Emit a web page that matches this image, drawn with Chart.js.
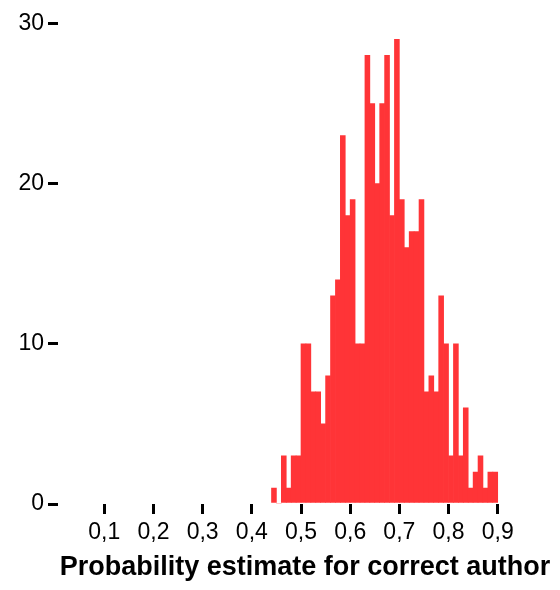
<!DOCTYPE html>
<html>
<head>
<meta charset="utf-8">
<script src="https://cdn.jsdelivr.net/npm/chart.js@4/dist/chart.umd.min.js"></script>
<style>
  html, body { margin: 0; padding: 0; background: #fff; }
  #wrap { width: 560px; height: 590px; }
</style>
</head>
<body>
<div id="wrap"><canvas id="hist" width="560" height="590"></canvas></div>
<script>
// histogram bins (centre of each 0.01 wide bin) and counts
const binCenters = [
  0.445, 0.455, 0.465, 0.475, 0.485, 0.495, 0.505, 0.515, 0.525, 0.535,
  0.545, 0.555, 0.565, 0.575, 0.585, 0.595, 0.605, 0.615, 0.625, 0.635,
  0.645, 0.655, 0.665, 0.675, 0.685, 0.695, 0.705, 0.715, 0.725, 0.735,
  0.745, 0.755, 0.765, 0.775, 0.785, 0.795, 0.805, 0.815, 0.825, 0.835,
  0.845, 0.855, 0.865, 0.875, 0.885, 0.895
];
const counts = [
  1, 0, 3, 1, 3, 3, 10, 10, 7, 7,
  5, 8, 13, 14, 23, 18, 19, 10, 10, 28,
  25, 20, 25, 28, 18, 29, 19, 16, 17, 17,
  19, 7, 8, 7, 13, 10, 3, 10, 3, 6,
  1, 2, 3, 1, 2, 2
];
const xTicks = [0.1, 0.2, 0.3, 0.4, 0.5, 0.6, 0.7, 0.8, 0.9];
const xTickLabels = ['0,1', '0,2', '0,3', '0,4', '0,5', '0,6', '0,7', '0,8', '0,9'];
const yTicks = [0, 10, 20, 30];
const xTitle = 'Probability estimate for correct author';

const points = binCenters.map((c, i) => ({ x: c, y: counts[i] }));

Chart.defaults.font.family = '"Liberation Sans", Arial, sans-serif';
Chart.defaults.color = '#000';

new Chart(document.getElementById('hist').getContext('2d'), {
  type: 'bar',
  data: {
    datasets: [{
      data: points,
      backgroundColor: '#ff3437',
      borderWidth: 0,
      barPercentage: 1,
      categoryPercentage: 1
    }]
  },
  options: {
    responsive: false,
    animation: false,
    devicePixelRatio: 1,
    layout: { padding: { top: 10, right: 8, left: 0, bottom: 0 } },
    plugins: { legend: { display: false }, tooltip: { enabled: false } },
    scales: {
      x: {
        type: 'linear',
        offset: false,
        min: 0.00585,
        max: 1.0104,
        border: { display: false },
        grid: {
          offset: false,
          drawOnChartArea: false,
          drawTicks: true,
          tickLength: 10,
          lineWidth: 3,
          color: '#000'
        },
        afterBuildTicks: s => { s.ticks = xTicks.map(v => ({ value: v })); },
        afterFit: s => { s.height = 86; },
        ticks: {
          autoSkip: false,
          maxRotation: 0,
          padding: 5,
          font: { size: 23 },
          callback: v => xTickLabels[xTicks.indexOf(Math.round(v * 10) / 10)]
        },
        title: {
          display: true,
          text: xTitle,
          font: { size: 27, weight: 'bold' },
          padding: { top: 0, bottom: 6 }
        }
      },
      y: {
        min: 0,
        max: 30.35,
        border: { display: false },
        grid: {
          drawOnChartArea: false,
          drawTicks: true,
          tickLength: 10,
          lineWidth: 3,
          color: '#000'
        },
        afterBuildTicks: s => { s.ticks = yTicks.map(v => ({ value: v })); },
        afterFit: s => { s.width = 58; },
        ticks: {
          padding: 4,
          font: { size: 23 }
        }
      }
    }
  }
});
</script>
</body>
</html>
